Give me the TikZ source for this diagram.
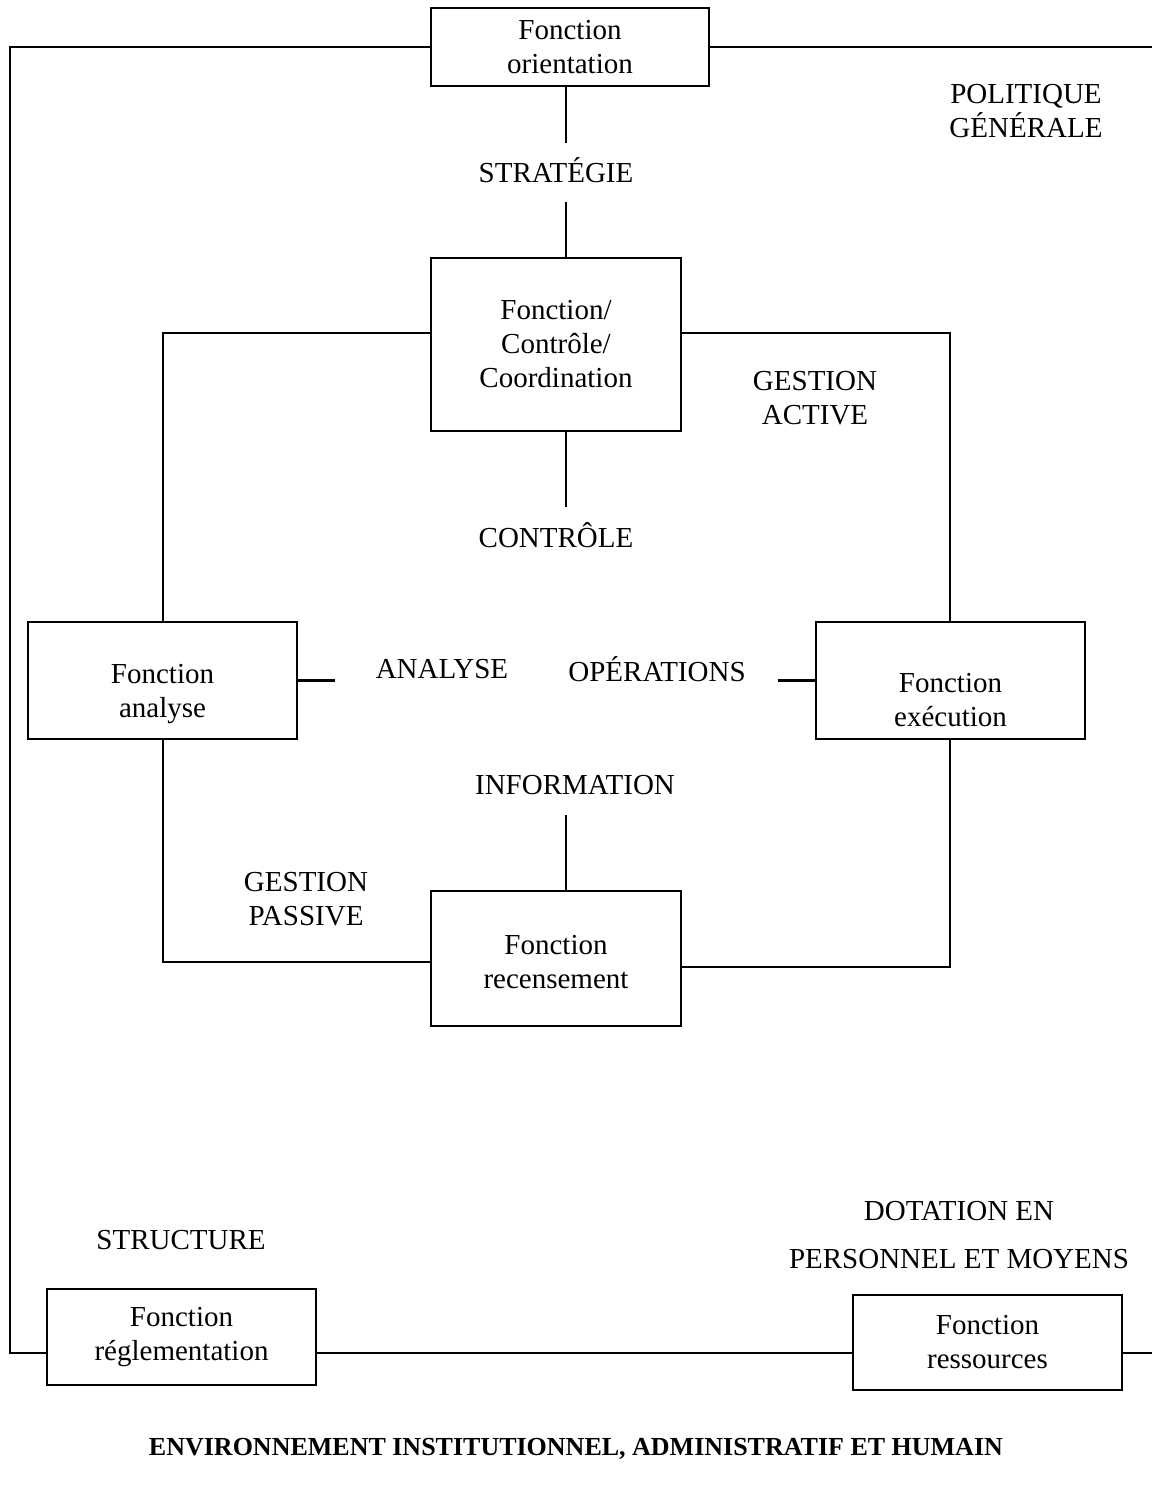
\documentclass[tikz,border=0pt]{standalone}
\usepackage{fontspec}
\setmainfont{Liberation Serif}
\begin{document}
\begin{tikzpicture}[x=1pt,y=-1pt,
  every node/.style={font=\fontsize{29}{34}\selectfont},
  box/.style={draw,line width=2.7pt,inner sep=0pt,align=center},
  lbl/.style={align=center,inner sep=0pt},
  conn/.style={line width=2.7pt}]
\useasboundingbox (0,0) rectangle (1152,1489);
% boxes
\node[box,minimum width=278,minimum height=78] (orient) at (570,47) {Fonction\\orientation};
\node[box,minimum width=250,minimum height=173] (ctrl) at (556,344.5) {Fonction/\\Contrôle/\\Coordination};
\node[box,minimum width=269,minimum height=117] (ana) at (162.5,680.5) {};
\node[lbl] (anat) at (162.5,694.5) {Fonction\\analyse};
\node[box,minimum width=269,minimum height=117] (exe) at (950.5,680.5) {};
\node[lbl] (exet) at (950.5,700.5) {Fonction\\exécution};
\node[box,minimum width=250,minimum height=135] (rec) at (556,958.5) {};
\node[lbl] (rect) at (556,962.5) {Fonction\\recensement};
\node[box,minimum width=269,minimum height=96] (regl) at (181.5,1337) {Fonction\\réglementation};
\node[box,minimum width=269,minimum height=95] (res) at (987.5,1342.5) {Fonction\\ressources};
% labels
\node[lbl] (strat) at (556,170) {STRATÉGIE};
\node[lbl] (pol) at (1026,111) {POLITIQUE\\GÉNÉRALE};
\node[lbl] (gact) at (815,398) {GESTION\\ACTIVE};
\node[lbl] (contr) at (556,535) {CONTRÔLE};
\node[lbl] (anal) at (442,669) {ANALYSE};
\node[lbl] (oper) at (657,669) {OPÉRATIONS};
\node[lbl] (info) at (575,785) {INFORMATION};
\node[lbl] (gpas) at (306,899) {GESTION\\PASSIVE};
\node[lbl] (struc) at (181,1240) {STRUCTURE};
\node[lbl] (dot1) at (959,1211) {DOTATION EN};
\node[lbl] (dot2) at (959,1259) {PERSONNEL ET MOYENS};
\node[lbl,font=\fontsize{26}{34}\selectfont\bfseries] (env) at (576,1449) {ENVIRONNEMENT INSTITUTIONNEL, ADMINISTRATIF ET HUMAIN};
% coordinates
\coordinate (tl) at (10,47);
\coordinate (tr) at (1152,47);
\coordinate (fb) at (10,1353);
\coordinate (br) at (1152,1353);
\coordinate (a1) at (566,143);
\coordinate (a2) at (566,202);
\coordinate (a3) at (566,507);
\coordinate (a4) at (566,815);
\coordinate (l1) at (163,333);
\coordinate (r1) at (950,333);
\coordinate (l2) at (163,962);
\coordinate (r2) at (950,967);
\coordinate (m1) at (335,680.5);
\coordinate (m2) at (778,680.5);
% connectors
\draw[conn] (orient.west) -- (tl) -- (fb) -- (regl.west |- fb);
\draw[conn] (orient.east) -- (tr);
\draw[conn] (regl.east |- fb) -- (res.west |- fb);
\draw[conn] (res.east |- fb) -- (br);
\draw[conn] (orient.south -| a1) -- (a1);
\draw[conn] (a2) -- (ctrl.north -| a2);
\draw[conn] (ctrl.south -| a3) -- (a3);
\draw[conn] (ctrl.west |- l1) -- (l1) -- (ana.north -| l1);
\draw[conn] (ctrl.east |- r1) -- (r1) -- (exe.north -| r1);
\draw[conn] (ana.east) -- (m1);
\draw[conn] (m2) -- (exe.west);
\draw[conn] (ana.south -| l2) -- (l2) -- (rec.west |- l2);
\draw[conn] (exe.south -| r2) -- (r2) -- (rec.east |- r2);
\draw[conn] (a4) -- (rec.north -| a4);
\end{tikzpicture}
\end{document}
